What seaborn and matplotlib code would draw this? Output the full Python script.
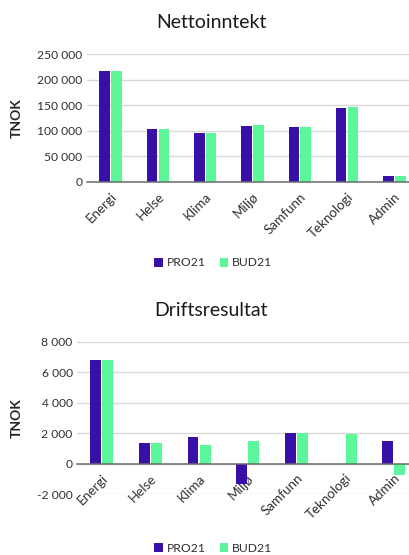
import matplotlib
matplotlib.use("Agg")
import matplotlib.pyplot as plt
from matplotlib.ticker import FuncFormatter, MultipleLocator
import pandas as pd
import seaborn as sns

# --- data ---
categories = ["Energi", "Helse", "Klima", "Miljø", "Samfunn", "Teknologi", "Admin"]
netto_pro21 = [217000, 104000, 96500, 110500, 107500, 145000, 11700]
netto_bud21 = [217000, 104000, 96500, 111000, 107500, 147000, 11700]
drift_pro21 = [6850, 1350, 1760, -1330, 2030, 0, 1530]
drift_bud21 = [6850, 1390, 1240, 1490, 2030, 1990, -700]
series = ["PRO21", "BUD21"]
colors = {"PRO21": "#3810A8", "BUD21": "#5CF79A"}

sns.set_theme(style="white")
plt.rcParams["font.family"] = ["Lato", "DejaVu Sans"]

def long_df(pro, bud):
    return pd.DataFrame({
        "Kategori": categories * 2,
        "Serie": [series[0]] * len(categories) + [series[1]] * len(categories),
        "Verdi": list(pro) + list(bud),
    })

def fmt(v, pos):
    s = f"{abs(int(round(v))):,}".replace(",", " ")
    return ("-" + s) if v < 0 else s

fig = plt.figure(figsize=(4.10, 5.55), dpi=100)
W, H = 410, 555

def add_panel(pro, bud, title, left, right, y0, y1, ymin, ymax, step, title_y, legend_y):
    ax = fig.add_axes([left / W, (H - y0) / H, (right - left) / W, (y0 - y1) / H])
    sns.barplot(data=long_df(pro, bud), x="Kategori", y="Verdi", hue="Serie",
                palette=colors, width=0.5, gap=0.1, ax=ax, legend=True,
                edgecolor="none", saturation=1)
    ax.set_ylim(ymin, ymax)
    ax.set_xlim(-0.5, len(categories) - 0.5)
    ax.yaxis.set_major_locator(MultipleLocator(step))
    ax.yaxis.set_major_formatter(FuncFormatter(fmt))
    ax.grid(axis="y", color="#d9d9d9", linewidth=1)
    ax.set_axisbelow(True)
    for s in ["top", "right", "left"]:
        ax.spines[s].set_visible(False)
    ax.spines["bottom"].set_position(("data", 0))
    ax.spines["bottom"].set_color("#6b6b6b")
    ax.spines["bottom"].set_linewidth(1.1)
    ax.tick_params(axis="both", length=0, labelsize=8.7, colors="#303030")
    ax.tick_params(axis="x", pad=6, labelsize=9.6)
    for lab in ax.get_xticklabels():
        lab.set_rotation(45)
        lab.set_ha("right")
        lab.set_va("top")
        lab.set_rotation_mode("anchor")
    ax.set_xlabel("")
    ax.set_ylabel("TNOK", fontsize=10, fontweight="bold", color="#262626")
    ax.yaxis.set_label_coords(-(left - 23) / (right - left), 0.5)
    fig.text(0.515, (H - title_y) / H, title, ha="center", va="center",
             fontsize=14, color="#1a1a1a")
    ax.legend_.remove()
    handles, labels = ax.get_legend_handles_labels()
    fig.legend(handles, labels, loc="center", bbox_to_anchor=(0.52, (H - legend_y) / H),
               ncol=2, frameon=False, fontsize=8.7, handlelength=0.7, handleheight=0.7,
               handletextpad=0.3, columnspacing=1.2, labelcolor="#303030")
    return ax

add_panel(netto_pro21, netto_bud21, "Nettoinntekt", 87, 418, 182, 54.3,
          0, 250000, 50000, 23, 263)
add_panel(drift_pro21, drift_bud21, "Driftsresultat", 77.5, 418, 494.3, 342,
          -2000, 8000, 2000, 311, 548)

fig.savefig("out.png", dpi=100)
